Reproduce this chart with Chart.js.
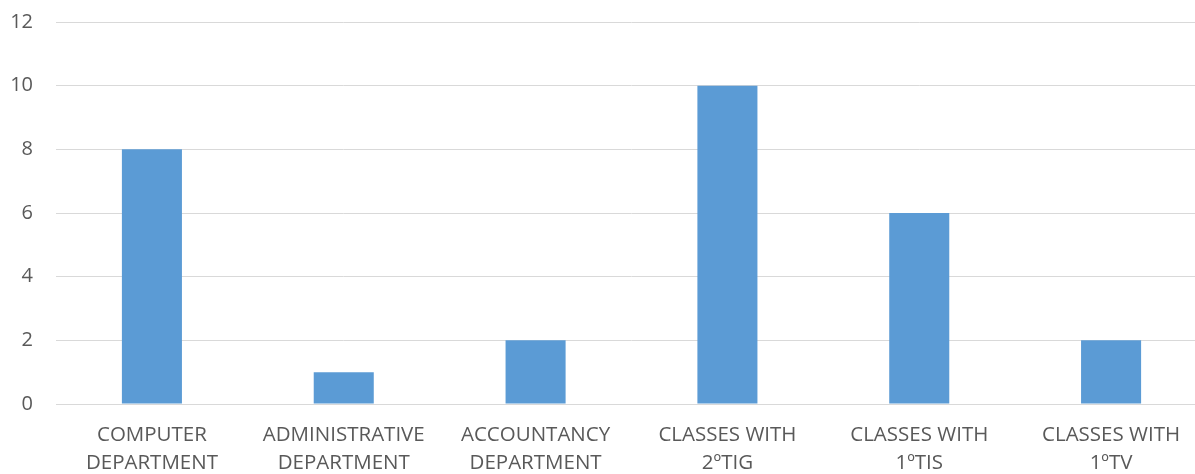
<!DOCTYPE html>
<html>
<head>
<meta charset="utf-8">
<script src="https://cdn.jsdelivr.net/npm/chart.js@4"></script>
<style>
html,body{margin:0;padding:0;overflow:hidden;background:#fff;}
#wrap{width:1210px;height:503px;margin-top:-13px;}
</style>
</head>
<body>
<div id="wrap"><canvas id="c" width="1210" height="503" style="width:1210px;height:503px"></canvas></div>
<script>
const categories = [
  ["COMPUTER","DEPARTMENT"],
  ["ADMINISTRATIVE","DEPARTMENT"],
  ["ACCOUNTANCY","DEPARTMENT"],
  ["CLASSES WITH","2ºTIG"],
  ["CLASSES WITH","1ºTIS"],
  ["CLASSES WITH","1ºTV"]
];
const values = [8, 1, 2, 10, 6, 2];
const yMin = 0, yMax = 12, yStep = 2;

new Chart(document.getElementById('c'), {
  type: 'bar',
  data: {
    labels: categories,
    datasets: [{
      data: values,
      backgroundColor: '#5B9BD5',
      borderWidth: 0,
      barPercentage: 0.313,
      categoryPercentage: 1.0
    }]
  },
  options: {
    responsive: false,
    animation: false,
    devicePixelRatio: 1,
    layout: { padding: { left: 0, right: 3, top: 11, bottom: 0 } },
    plugins: { legend: { display: false }, tooltip: { enabled: false } },
    scales: {
      x: {
        grid: { display: false, drawTicks: false },
        border: { display: true, color: '#d9d9d9', width: 1 },
        ticks: {
          color: '#595959',
          font: { family: 'Open Sans', size: 20.5, lineHeight: 1.37 },
          padding: 17,
          maxRotation: 0,
          autoSkip: false
        },
        afterFit: function(a){ a.height = 86; }
      },
      y: {
        min: yMin, max: yMax,
        grid: { color: '#d9d9d9', lineWidth: 1, drawTicks: false },
        border: { display: false },
        ticks: {
          stepSize: yStep,
          color: '#595959',
          font: { family: 'Open Sans', size: 20 },
          padding: 23
        },
        afterFit: function(a){ a.width = 56; }
      }
    }
  }
});
</script>
</body>
</html>
